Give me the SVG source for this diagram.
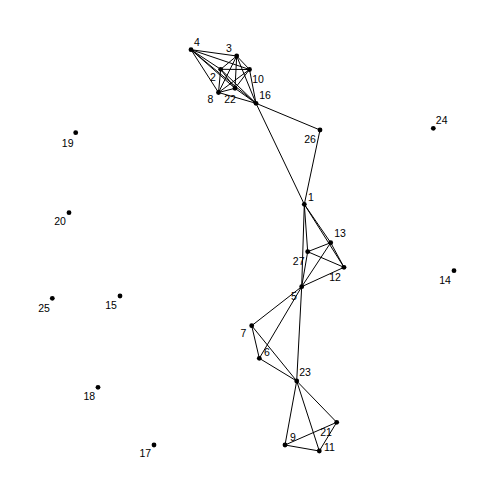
<svg xmlns="http://www.w3.org/2000/svg" width="504" height="504" viewBox="0 0 504 504">
<style>
.e{stroke:#000;stroke-width:1;fill:none}
.n circle{fill:#000}
text{font-family:"Liberation Sans",Arial,sans-serif;font-size:10.5px;fill:#000;text-anchor:middle}
</style>
<rect width="504" height="504" fill="#fff"/>
<g id="edges" class="e">
<line x1="191" y1="49.7" x2="236.7" y2="56"/>
<line x1="191" y1="49.7" x2="220.7" y2="69.3"/>
<line x1="191" y1="49.7" x2="249.5" y2="69.5"/>
<line x1="191" y1="49.7" x2="218.5" y2="92.5"/>
<line x1="191" y1="49.7" x2="235" y2="88.3"/>
<line x1="191" y1="49.7" x2="256" y2="103.3"/>
<line x1="236.7" y1="56" x2="220.7" y2="69.3"/>
<line x1="236.7" y1="56" x2="249.5" y2="69.5"/>
<line x1="236.7" y1="56" x2="218.5" y2="92.5"/>
<line x1="236.7" y1="56" x2="235" y2="88.3"/>
<line x1="236.7" y1="56" x2="256" y2="103.3"/>
<line x1="220.7" y1="69.3" x2="249.5" y2="69.5"/>
<line x1="220.7" y1="69.3" x2="218.5" y2="92.5"/>
<line x1="220.7" y1="69.3" x2="235" y2="88.3"/>
<line x1="220.7" y1="69.3" x2="256" y2="103.3"/>
<line x1="249.5" y1="69.5" x2="218.5" y2="92.5"/>
<line x1="249.5" y1="69.5" x2="235" y2="88.3"/>
<line x1="249.5" y1="69.5" x2="256" y2="103.3"/>
<line x1="218.5" y1="92.5" x2="235" y2="88.3"/>
<line x1="218.5" y1="92.5" x2="256" y2="103.3"/>
<line x1="235" y1="88.3" x2="256" y2="103.3"/>
<line x1="256" y1="103.3" x2="320" y2="130"/>
<line x1="256" y1="103.3" x2="304.3" y2="204.3"/>
<line x1="320" y1="130" x2="304.3" y2="204.3"/>
<line x1="304.3" y1="204.3" x2="307.7" y2="251.7"/>
<line x1="304.3" y1="204.3" x2="301.7" y2="286.7"/>
<line x1="304.3" y1="204.3" x2="330.7" y2="242.7"/>
<line x1="304.3" y1="204.3" x2="344" y2="267.3"/>
<line x1="330.7" y1="242.7" x2="307.7" y2="251.7"/>
<line x1="330.7" y1="242.7" x2="344" y2="267.3"/>
<line x1="330.7" y1="242.7" x2="301.7" y2="286.7"/>
<line x1="307.7" y1="251.7" x2="344" y2="267.3"/>
<line x1="307.7" y1="251.7" x2="301.7" y2="286.7"/>
<line x1="301.7" y1="286.7" x2="344" y2="267.3"/>
<line x1="301.7" y1="286.7" x2="251.7" y2="325.7"/>
<line x1="301.7" y1="286.7" x2="259.3" y2="358.3"/>
<line x1="301.7" y1="286.7" x2="296.7" y2="381"/>
<line x1="251.7" y1="325.7" x2="259.3" y2="358.3"/>
<line x1="251.7" y1="325.7" x2="296.7" y2="381"/>
<line x1="259.3" y1="358.3" x2="296.7" y2="381"/>
<line x1="296.7" y1="381" x2="285" y2="445"/>
<line x1="296.7" y1="381" x2="319.3" y2="451"/>
<line x1="296.7" y1="381" x2="336.7" y2="422.3"/>
<line x1="285" y1="445" x2="336.7" y2="422.3"/>
<line x1="285" y1="445" x2="319.3" y2="451"/>
<line x1="336.7" y1="422.3" x2="319.3" y2="451"/>
</g>
<g id="n1" class="n"><circle cx="304.3" cy="204.3" r="2.4"/><text x="311" y="200.6">1</text></g>
<g id="n2" class="n"><circle cx="220.7" cy="69.3" r="2.4"/><text x="213" y="80.6">2</text></g>
<g id="n3" class="n"><circle cx="236.7" cy="56" r="2.4"/><text x="229" y="51.6">3</text></g>
<g id="n4" class="n"><circle cx="191" cy="49.7" r="2.4"/><text x="197" y="45.6">4</text></g>
<g id="n5" class="n"><circle cx="301.7" cy="286.7" r="2.4"/><text x="294" y="299.6">5</text></g>
<g id="n6" class="n"><circle cx="259.3" cy="358.3" r="2.4"/><text x="267" y="355.6">6</text></g>
<g id="n7" class="n"><circle cx="251.7" cy="325.7" r="2.4"/><text x="243.5" y="336.6">7</text></g>
<g id="n8" class="n"><circle cx="218.5" cy="92.5" r="2.4"/><text x="210.5" y="102.6">8</text></g>
<g id="n9" class="n"><circle cx="285" cy="445" r="2.4"/><text x="293" y="441.1">9</text></g>
<g id="n10" class="n"><circle cx="249.5" cy="69.5" r="2.4"/><text x="258" y="82.6">10</text></g>
<g id="n11" class="n"><circle cx="319.3" cy="451" r="2.4"/><text x="329.5" y="450.6">11</text></g>
<g id="n12" class="n"><circle cx="344" cy="267.3" r="2.4"/><text x="335" y="280.6">12</text></g>
<g id="n13" class="n"><circle cx="330.7" cy="242.7" r="2.4"/><text x="340" y="237.1">13</text></g>
<g id="n14" class="n"><circle cx="454" cy="270.7" r="2.4"/><text x="445" y="284.3">14</text></g>
<g id="n15" class="n"><circle cx="120" cy="296" r="2.4"/><text x="111" y="308.6">15</text></g>
<g id="n16" class="n"><circle cx="256" cy="103.3" r="2.4"/><text x="265" y="98.6">16</text></g>
<g id="n17" class="n"><circle cx="154" cy="445" r="2.4"/><text x="145.3" y="456.9">17</text></g>
<g id="n18" class="n"><circle cx="98" cy="387.3" r="2.4"/><text x="89.3" y="399.6">18</text></g>
<g id="n19" class="n"><circle cx="75.7" cy="132.7" r="2.4"/><text x="67.7" y="146.9">19</text></g>
<g id="n20" class="n"><circle cx="69" cy="212.7" r="2.4"/><text x="60" y="225.3">20</text></g>
<g id="n21" class="n"><circle cx="336.7" cy="422.3" r="2.4"/><text x="326" y="435.6">21</text></g>
<g id="n22" class="n"><circle cx="235" cy="88.3" r="2.4"/><text x="230" y="102.6">22</text></g>
<g id="n23" class="n"><circle cx="296.7" cy="381" r="2.4"/><text x="305" y="375.6">23</text></g>
<g id="n24" class="n"><circle cx="433.3" cy="128.3" r="2.4"/><text x="441.7" y="124.3">24</text></g>
<g id="n25" class="n"><circle cx="52.3" cy="298.3" r="2.4"/><text x="44" y="311.9">25</text></g>
<g id="n26" class="n"><circle cx="320" cy="130" r="2.4"/><text x="310" y="142.9">26</text></g>
<g id="n27" class="n"><circle cx="307.7" cy="251.7" r="2.4"/><text x="298.7" y="264.6">27</text></g>
</svg>
